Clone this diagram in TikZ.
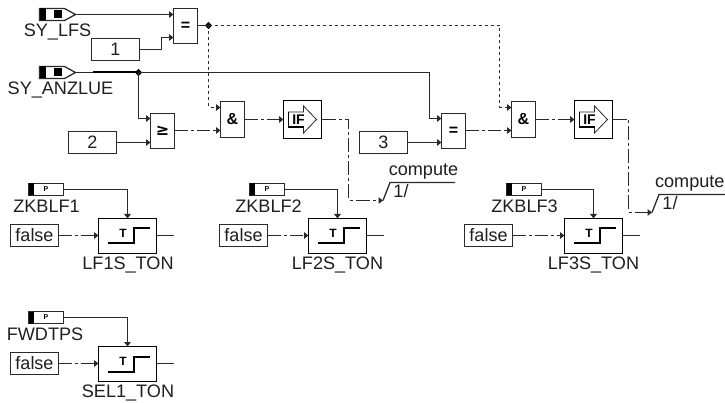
\documentclass[tikz,border=0pt]{standalone}
\usepackage{fontspec}
\setmainfont{Liberation Sans}
\newfontfamily\symfont{DejaVu Sans}
\usetikzlibrary{arrows.meta,shapes.geometric,calc}
\definecolor{ln}{HTML}{2A2A2A}
\tikzset{
  x=1pt,y=-1pt,
  block/.style={draw=ln,line width=1.4pt,fill=white,inner sep=0pt,outer sep=0pt,font=\fontsize{16}{16}\selectfont\bfseries},
  gate/.style={block,minimum width=24pt,minimum height=35pt},
  andgate/.style={gate,minimum height=36pt},
  ifbox/.style={block,draw=black,minimum width=38pt,minimum height=38pt},
  timer/.style={block,draw=black,minimum width=58pt,minimum height=35pt},
  constbox/.style={block,font=\fontsize{18}{18}\selectfont,minimum width=48pt,minimum height=22pt,text=black!88},
  lab/.style={inner sep=0pt,font=\fontsize{18.1}{18.1}\selectfont,text=black!88},
  junc/.style={diamond,fill=black,inner sep=0pt,minimum size=7.5pt},
  wire/.style={draw=ln,line width=1.3pt},
  inwire/.style={wire,-{Triangle[length=4.5pt,width=6.5pt]}},
  dotw/.style={dash pattern=on 3pt off 3pt},
  dashdotw/.style={dash pattern=on 13pt off 3pt on 3pt off 3pt},
  longw/.style={dash pattern=on 14pt off 3pt on 3pt off 3pt},
  icon/.style={draw=ln,line width=1.3pt,fill=white,inner sep=0pt,outer sep=0pt},
  picon/.style={icon,minimum width=35pt,minimum height=12pt,font=\fontsize{7}{7}\selectfont\bfseries},
}
% #1 name, #2 left x, #3 mid y
\newcommand{\sigIcon}[3]{%
  \draw[icon] (#2,#3-6) -- (#2+25,#3-6) -- (#2+36,#3) -- (#2+25,#3+6) -- (#2,#3+6) -- cycle;
  \fill[black] (#2,#3-6) rectangle (#2+6,#3+6);
  \fill[black] (#2+14,#3-4) rectangle (#2+22,#3+4);
  \coordinate (#1) at (#2+36,#3);
}
% #1 name, #2 centre x, #3 centre y
\newcommand{\paramIcon}[3]{%
  \node[picon] (#1) at (#2,#3) {P};
  \fill[black] (#2-17.5,#3-6) rectangle (#2-12.5,#3+6);
}
% #1 name, #2 centre x, #3 centre y
\newcommand{\timerBox}[3]{%
  \node[timer] (#1) at (#2,#3) {};
  \draw[black,line width=2pt] (#2-20,#3+7.5) -- (#2+6.5,#3+7.5) -- (#2+6.5,#3-7.5) -- (#2+22.5,#3-7.5);
  \node[inner sep=0pt,font=\fontsize{12}{12}\selectfont\bfseries] at (#2-4.5,#3-2.5) {T};
}
% #1 name, #2 centre x, #3 centre y
\newcommand{\ifBox}[3]{%
  \node[ifbox] (#1) at (#2,#3) {};
  \draw[draw=ln,line width=0.8pt] (#2-14,#3-7.5) -- (#2+1,#3-7.5) -- (#2+1,#3-13.5) -- (#2+14,#3) -- (#2+1,#3+13.5) -- (#2+1,#3+7.5) -- (#2-14,#3+7.5) -- cycle;
  \draw[black,line width=1.4pt] (#2-14,#3-7.5) -- (#2-14,#3+7.5) -- (#2+1,#3+7.5);
  \node[inner sep=0pt,font=\fontsize{14}{14}\selectfont\bfseries] at (#2-4,#3) {IF};
}
% #1 name, #2 left x of slant foot, #3 foot y, #4 overline end x, #5 centre x of word
\newcommand{\computeMark}[5]{%
  \coordinate (#1) at (#2,#3);
  \draw[wire] (#1) -- (#2+7,#3-18) -- (#4,#3-18);
  \node[lab] at (#5,#3-29) {compute};
  \node[lab] at (#2+18,#3-9) {1/};
}
\begin{document}
\begin{tikzpicture}
\useasboundingbox (0,0) rectangle (725,403);
\fill[white] (0,0) rectangle (725,403);

% signal sources
\sigIcon{sylfs}{39.5}{14.5}
\sigIcon{syanz}{39.5}{72.5}
\node[lab] (tsylfs) at (57.5,32) {SY\_LFS};
\node[lab] (tsyanz) at (60.5,90) {SY\_ANZLUE};

% constants
\node[constbox] (c1) at (115.5,49.5) {1};
\node[constbox] (c2) at (92.5,142.5) {2};
\node[constbox] (c3) at (383.5,142.5) {3};

% gates
\node[gate] (eq1) at (185.5,26) {=};
\node[gate] (ge) at (162.5,131) {\symfont ≥};
\node[andgate] (and1) at (232.5,119.5) {\&};
\node[gate] (eq2) at (453.5,131) {=};
\node[andgate] (and2) at (523.5,119.5) {\&};
\ifBox{if1}{302.5}{119.5}
\ifBox{if2}{593.5}{119.5}

% junctions
\node[junc] (j1) at (208.5,25.5) {};
\node[junc] (j2) at (138.5,72.5) {};

% ports
\coordinate (eq1a) at (173.5,14.5);
\coordinate (eq1b) at (173.5,37.5);
\coordinate (gea) at (150.5,118.5);
\coordinate (geb) at (150.5,142.5);
\coordinate (and1a) at (220.5,107.5);
\coordinate (and1b) at (220.5,130.5);
\coordinate (eq2a) at (441.5,118.5);
\coordinate (eq2b) at (441.5,142.5);
\coordinate (and2a) at (511.5,107.5);
\coordinate (and2b) at (511.5,130.5);

% compute marks
\computeMark{cm1}{383}{200.5}{455}{423.5}
\computeMark{cm2}{652}{212.5}{725}{689.8}

% timers
\paramIcon{p1}{46}{189.5}
\paramIcon{p2}{267}{189.5}
\paramIcon{p3}{524}{189.5}
\paramIcon{p4}{46}{317.5}
\node[lab] at (46.5,206) {ZKBLF1};
\node[lab] at (268.5,206) {ZKBLF2};
\node[lab] at (524.5,206) {ZKBLF3};
\node[lab] at (45,334) {FWDTPS};
\node[constbox] (f1) at (34.5,235.5) {false};
\node[constbox] (f2) at (243.5,235.5) {false};
\node[constbox] (f3) at (488.5,235.5) {false};
\node[constbox] (f4) at (34.5,363.5) {false};
\timerBox{t1}{127.5}{236}
\timerBox{t2}{337.5}{236}
\timerBox{t3}{593.5}{236}
\timerBox{t4}{127.5}{364}
\node[lab] at (128,265) {LF1S\_TON};
\node[lab] at (337.5,265) {LF2S\_TON};
\node[lab] at (593.5,265) {LF3S\_TON};
\node[lab] at (128,393) {SEL1\_TON};

\coordinate (o1) at (174,235.5);
\coordinate (o2) at (384,235.5);
\coordinate (o3) at (640,235.5);
\coordinate (o4) at (174,363.5);

% upper connectors
\draw[inwire] (sylfs) -- (eq1a);
\draw[inwire] (c1.east) -- (161.5,49.5) -- (161.5,37.5) -- (eq1b);
\draw[wire] (eq1.east|-j1) -- (j1.center);
\draw[inwire,dotw] (j1.center) -- (208.5,107.5) -- (and1a);
\draw[inwire,dotw] (j1.center) -- (499.5,25.5) -- (499.5,107.5) -- (and2a);
\draw[wire] (syanz) -- (93,72.5);
\draw[draw=black,line width=2pt] (93,72.5) -- (j2.center);
\draw[inwire] (j2.center) -- (429.5,72.5) -- (429.5,118.5) -- (eq2a);
\draw[inwire] (j2.center) -- (138.5,118.5) -- (gea);
\draw[inwire] (c2.east) -- (geb);
\draw[inwire] (c3.east) -- (eq2b);
\draw[inwire,dashdotw] (ge.east|-and1b) -- (and1b);
\draw[inwire,dashdotw] (eq2.east|-and2b) -- (and2b);
\draw[inwire,dashdotw] (and1.east) -- (if1.west);
\draw[inwire,dashdotw] (and2.east) -- (if2.west);
\draw[inwire,longw] (if1.east) -- (348.5,119.5) -- (348.5,200.5) -- (cm1);
\draw[inwire,longw] (if2.east) -- (628.5,119.5) -- (628.5,212.5) -- (cm2);

% timer connectors
\draw[inwire] (p1.east) -| (t1.north);
\draw[inwire] (p2.east) -| (t2.north);
\draw[inwire] (p3.east) -| (t3.north);
\draw[inwire] (p4.east) -| (t4.north);
\draw[inwire,dashdotw] (f1.east) -- (t1.west|-f1.east);
\draw[inwire,dashdotw] (f2.east) -- (t2.west|-f2.east);
\draw[inwire,dashdotw] (f3.east) -- (t3.west|-f3.east);
\draw[inwire,dashdotw] (f4.east) -- (t4.west|-f4.east);
\draw[wire] (t1.east|-o1) -- (o1);
\draw[wire] (t2.east|-o2) -- (o2);
\draw[wire] (t3.east|-o3) -- (o3);
\draw[wire] (t4.east|-o4) -- (o4);
\end{tikzpicture}
\end{document}
